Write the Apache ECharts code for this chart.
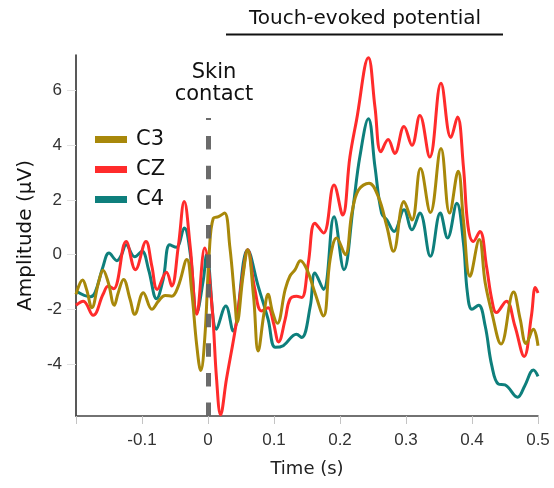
<!DOCTYPE html>
<html>
<head>
<meta charset="utf-8">
<script src="https://cdn.jsdelivr.net/npm/echarts@6/dist/echarts.min.js"></script>
<style>
  html, body { margin: 0; padding: 0; background: #fff; }
  #chart { width: 554px; height: 488px; }
</style>
</head>
<body>
<div id="chart"></div>
<script>
// Channel traces: time (s) and amplitude (µV)
const c3Time = [-0.2,-0.19,-0.184,-0.176,-0.166,-0.159,-0.151,-0.142,-0.136,-0.128,-0.118,-0.111,-0.098,-0.085,-0.075,-0.065,-0.055,-0.045,-0.032,-0.025,-0.017,-0.011,-0.005,0.002,0.008,0.016,0.025,0.033,0.041,0.044,0.053,0.06,0.069,0.076,0.085,0.091,0.098,0.105,0.117,0.124,0.132,0.14,0.15,0.162,0.175,0.185,0.195,0.208,0.218,0.228,0.244,0.258,0.271,0.281,0.297,0.309,0.322,0.337,0.353,0.366,0.379,0.387,0.397,0.411,0.42,0.43,0.444,0.463,0.473,0.482,0.493,0.5];
const c3Amp = [-1.45,-0.93,-1.27,-1.94,-1.03,-0.57,-1.03,-1.85,-1.39,-0.91,-1.64,-2.18,-1.39,-2.0,-1.7,-1.49,-1.52,-1.15,-0.18,-1.27,-3.33,-4.24,-3.09,0.12,1.33,1.39,1.52,0.3,-1.76,-2.48,-0.79,0.18,-1.52,-3.52,-2.12,-1.45,-2.12,-2.51,-1.27,-0.79,-0.55,-0.22,-0.55,-1.39,-2.24,-0.18,0.61,0,1.52,2.36,2.61,2.12,1.03,0.12,1.94,1.27,3.15,1.54,3.88,1.52,3.05,1.27,-0.79,0.55,-1.03,-2.12,-3.27,-1.37,-2.36,-3.25,-2.73,-3.33];

const czTime = [-0.2,-0.189,-0.174,-0.159,-0.151,-0.143,-0.124,-0.11,-0.094,-0.085,-0.077,-0.063,-0.055,-0.045,-0.036,-0.027,-0.017,-0.005,0.006,0.013,0.019,0.028,0.043,0.053,0.06,0.071,0.081,0.091,0.099,0.107,0.117,0.124,0.134,0.142,0.152,0.162,0.175,0.191,0.204,0.215,0.225,0.243,0.253,0.262,0.273,0.283,0.297,0.309,0.321,0.336,0.353,0.368,0.378,0.387,0.394,0.402,0.412,0.422,0.43,0.437,0.452,0.465,0.479,0.49,0.496,0.5];
const czAmp = [-1.85,-1.7,-2.22,-1.45,-1.15,-1.25,0.48,-0.55,0.48,-0.43,-1.27,-0.64,-1.15,0.3,1.94,0.3,-2.18,0.24,-1.88,-4.55,-5.85,-4.55,-2.48,-0.67,0.18,-1.27,-2.06,-1.94,-2.48,-3.19,-2.36,-1.64,-1.52,-1.57,-0.3,1.15,0.79,2.55,1.45,3.57,4.91,7.2,5.39,3.76,4.21,3.7,4.69,4.0,5.09,3.57,6.27,4.28,5.03,3.21,1.03,0.48,0.85,-0.43,-1.64,-2.12,-1.7,-2.61,-3.72,-2.24,-1.2,-1.4];

const c4Time = [-0.2,-0.178,-0.171,-0.159,-0.15,-0.138,-0.131,-0.124,-0.111,-0.1,-0.09,-0.078,-0.068,-0.058,-0.048,-0.036,-0.027,-0.017,-0.007,-0.002,0.013,0.027,0.038,0.06,0.076,0.091,0.102,0.114,0.134,0.142,0.155,0.162,0.175,0.191,0.206,0.22,0.23,0.243,0.253,0.263,0.271,0.282,0.297,0.309,0.321,0.337,0.352,0.363,0.377,0.387,0.393,0.4,0.41,0.42,0.43,0.44,0.45,0.469,0.48,0.493,0.5];
const c4Amp = [-1.33,-1.54,-1.38,-0.43,0.06,-0.22,0,0.36,-0.08,0.12,-0.55,-1.61,-0.91,0.36,0.27,0.97,0.06,-2.12,-0.91,0,-2.73,-1.88,-2.79,0.18,-1.15,-2.36,-3.39,-3.33,-2.91,-3.03,-1.88,-0.67,-1.27,1.39,-0.55,1.76,3.57,4.97,3.21,1.52,1.27,0.85,1.64,0.91,1.52,-0.06,1.52,0.61,1.88,0.43,-1.39,-2.0,-1.85,-2.61,-4.06,-4.73,-4.76,-5.21,-4.79,-4.22,-4.45];

// Axis ticks
const xTickValues = [-0.2, -0.1, 0, 0.1, 0.2, 0.3, 0.4, 0.5];
const xLabelValues = [-0.1, 0, 0.1, 0.2, 0.3, 0.4, 0.5];
const yTickValues = [-4, -2, 0, 2, 4, 6];

// Stimulus onset marker: time and the amplitude where the dashed line stops
const contactTime = 0;
const contactTop = 5.0;

const channelColors = { C3: '#a8880a', CZ: '#ff2b2b', C4: '#0e7f7c' };

function pairs(t, v) { return t.map((x, i) => [x, v[i]]); }

const chart = echarts.init(document.getElementById('chart'), null, { renderer: 'canvas' });

const yMin = -5.9, yMax = 7.3;

function traceSeries(name, t, v) {
  return {
    name: name,
    type: 'line',
    data: pairs(t, v),
    smooth: 0.4,
    showSymbol: false,
    symbol: 'none',
    color: channelColors[name],
    lineStyle: { width: 3, color: channelColors[name] },
    clip: false,
    animation: false
  };
}

const option = {
  animation: false,
  backgroundColor: '#ffffff',
  grid: { left: 76, right: 16, top: 55, bottom: 72, containLabel: false },
  legend: {
    data: ['C3', 'CZ', 'C4'],
    orient: 'vertical',
    left: 90,
    top: 124,
    icon: 'rect',
    itemWidth: 32,
    itemHeight: 7,
    itemGap: 9,
    textStyle: { fontFamily: 'DejaVu Sans', fontSize: 21, color: '#111', padding: [0, 0, 0, 4] }
  },
  xAxis: {
    type: 'value',
    min: -0.2,
    max: 0.5,
    interval: 0.1,
    name: 'Time (s)',
    nameLocation: 'middle',
    nameGap: 44,
    nameTextStyle: { fontFamily: 'DejaVu Sans', fontSize: 18, color: '#222' },
    axisLine: { show: true, onZero: false, lineStyle: { color: '#444', width: 1.5 } },
    axisTick: { show: true, inside: false, length: 8, customValues: xTickValues, lineStyle: { color: '#c4c4c4', width: 1 } },
    axisLabel: {
      customValues: xLabelValues,
      margin: 16,
      fontFamily: 'Liberation Sans',
      fontSize: 17,
      color: '#333',
      formatter: v => String(Math.round(v * 10) / 10)
    },
    splitLine: { show: false }
  },
  yAxis: {
    type: 'value',
    min: yMin,
    max: yMax,
    name: 'Amplitude (\u03bcV)',
    nameLocation: 'middle',
    nameGap: 40,
    nameRotate: 90,
    nameTextStyle: { fontFamily: 'DejaVu Sans', fontSize: 20, color: '#111' },
    axisLine: { show: true, onZero: false, lineStyle: { color: '#222', width: 1.5 } },
    axisTick: { show: true, inside: false, length: 9, customValues: yTickValues, lineStyle: { color: '#e2e2e2', width: 1 } },
    axisLabel: {
      customValues: yTickValues,
      margin: 14,
      fontFamily: 'Liberation Sans',
      fontSize: 17,
      color: '#333'
    },
    splitLine: { show: false }
  },
  series: [
    traceSeries('C4', c4Time, c4Amp),
    traceSeries('CZ', czTime, czAmp),
    traceSeries('C3', c3Time, c3Amp),
    {
      name: 'onset',
      type: 'line',
      data: [],
      z: 5,
      markLine: {
        silent: true,
        symbol: 'none',
        animation: false,
        label: { show: false },
        lineStyle: { color: '#636363', width: 5, type: [13.5, 16.1], opacity: 0.95 },
        data: [[{ coord: [contactTime, yMin] }, { coord: [contactTime, contactTop] }]]
      }
    }
  ],
  graphic: [
    {
      type: 'text',
      style: {
        x: 214, y: 73,
        text: 'Skin',
        fontFamily: 'DejaVu Sans', fontSize: 21, fill: '#111',
        align: 'center', verticalAlign: 'middle'
      }
    },
    {
      type: 'text',
      style: {
        x: 214, y: 95,
        text: 'contact',
        fontFamily: 'DejaVu Sans', fontSize: 21, fill: '#111',
        align: 'center', verticalAlign: 'middle'
      }
    },
    {
      type: 'text',
      style: {
        x: 365, y: 19,
        text: 'Touch-evoked potential',
        fontFamily: 'DejaVu Sans', fontSize: 20, fill: '#111',
        align: 'center', verticalAlign: 'middle'
      }
    },
    {
      type: 'line',
      shape: { x1: 226, y1: 34.5, x2: 503, y2: 34.5 },
      style: { stroke: '#111', lineWidth: 2 }
    }
  ]
};

chart.setOption(option);
</script>
</body>
</html>
